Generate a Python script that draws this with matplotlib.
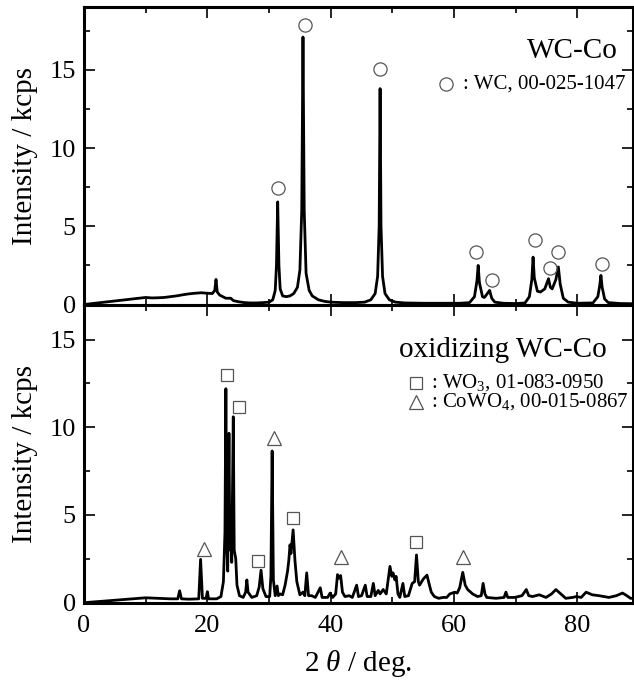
import matplotlib
matplotlib.use("Agg")
import matplotlib.pyplot as plt
from matplotlib.ticker import MultipleLocator

plt.rcParams['font.family'] = ['Liberation Serif', 'DejaVu Serif']
plt.rcParams['mathtext.fontset'] = 'custom'
plt.rcParams['mathtext.rm'] = 'Liberation Serif'
plt.rcParams['mathtext.it'] = 'Liberation Serif:italic'

# ---- WC-Co pattern (2theta deg, kcps) ----
wc_x = [0, 10, 11, 12, 13, 14, 15, 16, 17, 18, 19, 20, 20.8, 21.2, 21.4, 21.6, 22.0, 23.0, 23.8, 24.2,
        25, 26, 27, 28, 29, 30, 30.6, 31.0, 31.2, 31.4, 31.6, 31.8, 32.2, 32.8, 33.4, 34.0, 34.6, 35.0,
        35.3, 35.5, 35.7, 36.0, 36.5, 37.0, 38.0, 39.0, 40, 42, 44, 45.5, 46.5, 47.2, 47.6, 47.85, 48.0,
        48.15, 48.4, 48.8, 49.5, 50.5, 52, 55, 58, 61, 62.5, 63.3, 63.7, 63.9, 64.1, 64.6, 64.9, 65.2,
        65.75, 66.1, 66.6, 68, 70, 71.5, 72.2, 72.6, 72.8, 73.0, 73.5, 74.0, 74.7, 75.3, 75.6, 75.9,
        76.5, 76.9, 77.2, 77.7, 78.5, 80, 82.5, 83.3, 83.6, 83.8, 84.0, 84.4, 85, 87, 89]
wc_y = [0, 0.45, 0.42, 0.43, 0.45, 0.50, 0.55, 0.62, 0.68, 0.72, 0.75, 0.72, 0.70, 0.9, 1.6, 0.8, 0.6, 0.4, 0.4, 0.25,
        0.18, 0.12, 0.10, 0.10, 0.12, 0.15, 0.3, 0.9, 2.5, 6.56, 2.5, 1.0, 0.55, 0.5, 0.55, 0.7, 1.1, 2.2,
        6.0, 17.1, 6.0, 2.0, 0.9, 0.55, 0.3, 0.2, 0.15, 0.12, 0.12, 0.15, 0.3, 0.7, 1.8, 5.0, 13.8,
        5.0, 1.8, 0.7, 0.3, 0.15, 0.1, 0.08, 0.08, 0.08, 0.12, 0.5, 1.5, 2.5, 1.4, 0.5, 0.45, 0.6,
        0.9, 0.4, 0.15, 0.08, 0.06, 0.1, 0.5, 1.6, 3.03, 1.7, 0.85, 0.8, 1.0, 1.65, 1.1, 1.0,
        1.6, 2.4, 1.3, 0.4, 0.15, 0.08, 0.1, 0.5, 1.2, 1.86, 1.1, 0.35, 0.12, 0.06, 0.05]

# WC reference markers
wc_mark_x = [31.4, 35.9, 48.0, 63.6, 66.1, 73.1, 75.6, 76.9, 83.9]
wc_mark_y = [7.46, 17.84, 15.06, 3.35, 1.54, 4.1, 2.33, 3.33, 2.58]

# ---- oxidizing WC-Co pattern ----
ox_x = [0, 10, 12, 14, 15.2, 15.5, 15.8, 17, 18.6, 18.9, 19.2, 19.8, 20.0, 20.2, 21.5, 22.2,
        22.6, 22.85, 23.0, 23.15, 23.3, 23.5, 23.65, 23.8, 23.95, 24.2, 24.35, 24.6, 24.8, 25.2, 25.8,
        26.2, 26.4, 26.6, 27.2, 28.0, 28.4, 28.7, 29.0, 29.5, 30.1, 30.3, 30.5, 30.7, 31.0, 31.3, 31.5,
        31.8, 32.2, 32.6, 33.0, 33.2, 33.4, 33.55, 33.9, 34.2, 34.5, 35.0, 35.5, 35.8, 36.1, 36.4, 36.9,
        37.5, 38.3, 38.6, 39.5, 39.9, 40.3, 40.8, 41.1, 41.3, 41.6, 41.9, 42.3, 43.0, 43.5, 44.2, 44.5,
        45.0, 45.6, 45.9, 46.5, 46.9, 47.2, 47.7, 48.0, 48.5, 49.0, 49.6, 49.9, 50.1, 50.4, 50.6, 50.9,
        51.2, 51.7, 52.0, 52.6, 53.2, 53.6, 53.9, 54.2, 54.4, 55.0, 55.6, 56.0, 56.3, 56.8, 57.5, 58.2,
        58.8, 59.3, 60.1, 60.5, 60.9, 61.4, 61.8, 62.2, 63.0, 63.8, 64.4, 64.7, 65.0, 65.3, 66.8, 68.1,
        68.4, 68.7, 69.8, 71.0, 71.7, 72.1, 72.7, 73.8, 74.9, 75.8, 76.5, 77.3, 78.1, 79.2, 79.8, 80.6,
        81.4, 82.4, 83.5, 84.3, 85.1, 86.3, 87.3, 88.0, 88.6, 89.0]
ox_y = [0, 0.28, 0.25, 0.22, 0.22, 0.68, 0.22, 0.2, 0.22, 2.47, 0.25, 0.25, 0.63, 0.22, 0.22, 0.35,
        1.2, 4.0, 12.2, 3.5, 1.8, 9.66, 3.0, 4.8, 2.3, 10.6, 3.0, 2.5, 1.0, 0.4, 0.3,
        0.6, 1.3, 0.6, 0.3, 0.4, 0.9, 1.85, 0.8, 0.35, 0.35, 1.5, 8.65, 1.3, 0.4, 0.95, 0.4,
        0.5, 0.45, 1.0, 1.8, 2.4, 3.3, 2.8, 4.15, 2.4, 1.2, 0.45, 0.6, 0.4, 1.7, 0.4, 0.4,
        0.3, 0.85, 0.3, 0.3, 0.55, 0.3, 0.5, 1.6, 1.4, 1.55, 0.6, 0.35, 0.4, 0.3, 1.0, 0.35,
        0.4, 1.0, 0.35, 0.35, 1.1, 0.4, 0.7, 0.5, 0.75, 0.5, 2.07, 1.5, 1.7, 1.3, 1.5, 0.5,
        0.3, 1.1, 0.35, 0.4, 1.1, 1.2, 2.72, 1.2, 1.0, 1.35, 1.57, 1.0, 0.6, 0.35, 0.25, 0.3,
        0.3, 0.5, 0.6, 0.55, 0.85, 1.73, 1.0, 0.75, 0.5, 0.35, 0.4, 1.1, 0.5, 0.3, 0.25, 0.3,
        0.6, 0.3, 0.3, 0.4, 0.75, 0.4, 0.35, 0.45, 0.3, 0.5, 0.75, 0.5, 0.25, 0.3, 0.35, 0.3,
        0.6, 0.45, 0.4, 0.35, 0.3, 0.4, 0.55, 0.4, 0.25, 0.25]

wo3_mark_x = [23.2, 25.1, 28.2, 33.9, 53.8]
wo3_mark_y = [13.0, 11.18, 2.38, 4.85, 3.48]
cowo4_mark_x = [19.4, 30.8, 41.7, 61.4]
cowo4_mark_y = [3.05, 9.38, 2.59, 2.59]

top_title = "WC-Co"
top_legend = ": WC, 00-025-1047"
bot_title = "oxidizing WC-Co"
bot_legend1 = r": WO$_3$, 01-083-0950"
bot_legend2 = r": CoWO$_4$, 00-015-0867"
ylabel = "Intensity / kcps"
xlabel = r"2 $\theta$ / deg."

W, H = 634, 684
fig = plt.figure(figsize=(W / 100, H / 100), dpi=100)
L, R = 84 / W, 633 / W
yb_mid = 1 - 304.5 / H
ax1 = fig.add_axes([L, yb_mid, R - L, (304.5 - 7.3) / H])
ax2 = fig.add_axes([L, 1 - 602.7 / H, R - L, (602.7 - 304.5) / H])

mec = '#555555'
for ax in (ax1, ax2):
    ax.set_xlim(0, 89)
    ax.xaxis.set_major_locator(MultipleLocator(20))
    ax.xaxis.set_minor_locator(MultipleLocator(10))
    ax.yaxis.set_major_locator(MultipleLocator(5))
    ax.yaxis.set_minor_locator(MultipleLocator(2.5))
    ax.tick_params(which='both', direction='in', top=True, right=True, width=1.2)
    ax.tick_params(which='major', length=8, labelsize=19)
    ax.tick_params(axis='x', which='major', pad=9)
    ax.tick_params(axis='y', which='major', pad=6)
    ax.tick_params(which='minor', length=4)
    for s in ax.spines.values():
        s.set_linewidth(2.2)
    ax.set_ylabel(ylabel, fontsize=21)
    ax.yaxis.set_label_coords(-0.084, 0.5)

ax1.set_ylim(0, 19)
ax2.set_ylim(0, 17)
ax1.tick_params(labelbottom=False)

ax1.plot(wc_x, wc_y, color='black', lw=2.0, solid_joinstyle='round')
ax1.plot(wc_mark_x, wc_mark_y, 'o', ms=9.5, mfc='none', mec=mec, mew=0.9, clip_on=False)

ax2.plot(ox_x, ox_y, color='black', lw=2.0, solid_joinstyle='round')
ax2.plot(wo3_mark_x, wo3_mark_y, 's', ms=8.5, mfc='none', mec=mec, mew=0.9, clip_on=False)
ax2.plot(cowo4_mark_x, cowo4_mark_y, '^', ms=10, mfc='none', mec=mec, mew=0.9, clip_on=False)

ax2.set_xlabel(xlabel, fontsize=21, labelpad=8)

# annotations
ax1.text(0.972, 0.854, top_title, transform=ax1.transAxes, ha='right', va='center', fontsize=21)
ax1.plot([0.659], [0.742], 'o', ms=9.5, mfc='none', mec=mec, mew=0.9, transform=ax1.transAxes, clip_on=False)
ax1.text(0.690, 0.742, top_legend, transform=ax1.transAxes, ha='left', va='center', fontsize=15)

ax2.text(0.953, 0.847, bot_title, transform=ax2.transAxes, ha='right', va='center', fontsize=21)
ax2.plot([0.605], [0.737], 's', ms=8.5, mfc='none', mec=mec, mew=0.9, transform=ax2.transAxes, clip_on=False)
ax2.text(0.632, 0.737, bot_legend1, transform=ax2.transAxes, ha='left', va='center', fontsize=15)
ax2.plot([0.605], [0.673], '^', ms=10, mfc='none', mec=mec, mew=0.9, transform=ax2.transAxes, clip_on=False)
ax2.text(0.632, 0.673, bot_legend2, transform=ax2.transAxes, ha='left', va='center', fontsize=15)

fig.savefig("out.png", dpi=100)
